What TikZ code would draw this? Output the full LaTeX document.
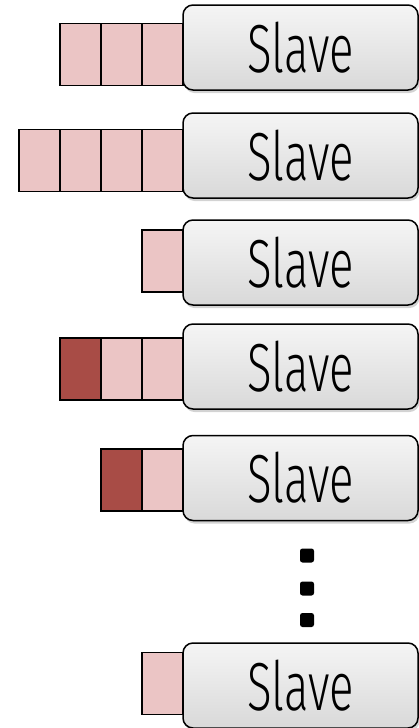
\documentclass[tikz,border=0pt]{standalone}
\usepackage{fontspec}
\setmainfont{Fira Sans Light}[FakeStretch=0.67]
\usetikzlibrary{positioning,backgrounds,shadows}
\definecolor{qlight}{HTML}{EBC5C5}
\definecolor{qdark}{HTML}{A84C46}

\begin{document}
\begin{tikzpicture}[x=1pt, y=-1pt,
  slave/.style={draw, line width=1.5pt, rounded corners=10pt, minimum width=235pt,
    minimum height=85pt, inner sep=0pt, outer sep=0pt, top color=gray!8, bottom color=gray!30,
    drop shadow={shadow xshift=1.5pt, shadow yshift=-3pt, opacity=0.35},
    font=\fontsize{68}{70}\selectfont},
  cell/.style={draw, line width=1.5pt, minimum width=41pt, minimum height=62pt,
    inner sep=0pt, outer sep=0pt},
  dot/.style={fill=black, rounded corners=2.5pt, minimum size=14pt, inner sep=0pt}
]
  \useasboundingbox (0,0) rectangle (419,728);

  \node[slave] (s1) at (300.5,47.5) {Slave};
  \node[slave] (s2) at (300.5,155.5) {Slave};
  \node[slave] (s3) at (300.5,262.5) {Slave};
  \node[slave] (s4) at (300.5,366.5) {Slave};
  \node[slave] (s5) at (300.5,478) {Slave};
  \node[slave] (s6) at (300.5,685.5) {Slave};

  \foreach \y [count=\i] in {555.5,588.5,620} { \node[dot] (d\i) at (307,\y) {}; }

  % queues, rightmost cell first; \k dark cells at the far end
  \begin{scope}[on background layer]
    \foreach \s/\dy/\n/\k in {s1/7/3/0, s2/5/4/0, s3/-1.5/1/0, s4/2.5/3/1, s5/2/2/1, s6/-2/1/0} {
      \pgfmathtruncatemacro\lim{\n-\k}
      \foreach \i in {1,...,\n} {
        \ifnum\i>\lim \def\fc{qdark}\else\def\fc{qlight}\fi
        \node[cell, fill=\fc, anchor=east] (\s-q\i)
          at ([xshift={-(\i-1)*41pt}, yshift=-\dy pt]\s.west) {};
      }
    }
  \end{scope}
\end{tikzpicture}
\end{document}
